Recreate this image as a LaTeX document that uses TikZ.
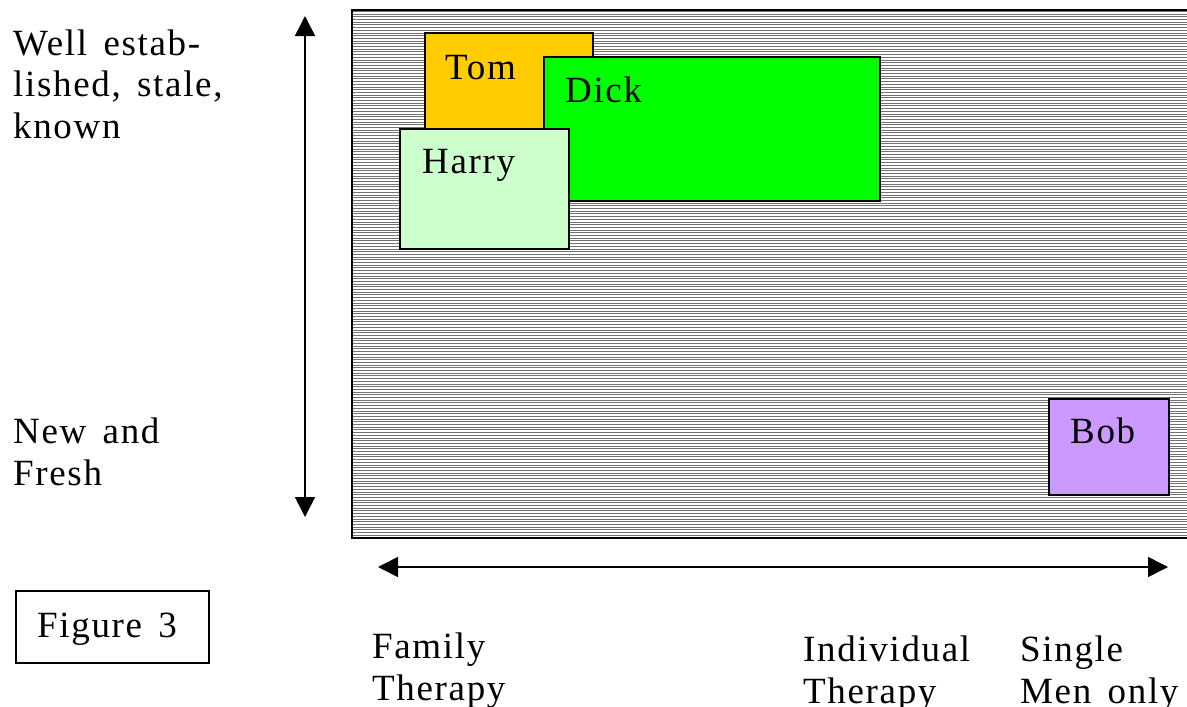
\documentclass[tikz,border=0pt]{standalone}
\usepackage{fontspec}
\setmainfont{Liberation Serif}[LetterSpace=4.5, WordSpace=1.5]
\usetikzlibrary{arrows.meta}

\definecolor{tomfill}{HTML}{FFCC00}
\definecolor{dickfill}{HTML}{00FF00}
\definecolor{harryfill}{HTML}{CCFFCC}
\definecolor{bobfill}{HTML}{CC99FF}

\tikzset{
  txt/.style={inner sep=0pt, anchor=base west, align=left,
    font=\fontsize{37}{41.5}\selectfont},
  patch/.style={draw=black, line width=1.4pt},
  axis/.style={line width=1.6pt, {Triangle[length=20pt,width=20pt]}-{Triangle[length=20pt,width=20pt]}},
}

\begin{document}
\begin{tikzpicture}[x=1pt, y=-1pt]
    \useasboundingbox (0,0) rectangle (1187,707);

    % Hatched field
    \coordinate (F1) at (352,10);
    \coordinate (F2) at (1187,538);
    \begin{scope}
      \clip (F1) rectangle (F2);
      \foreach \y in {11.4,14.1,...,538}
        \draw[black!55, line width=1pt] (352,\y) -- (1187,\y);
    \end{scope}
    \draw[line width=1.6pt] (F2 |- F1) -- (F1) -- (F1 |- F2) -- (F2);

    % Tom, Dick, Harry and Bob
    \filldraw[patch, fill=tomfill] (425,33) rectangle (593,135);
    \filldraw[patch, fill=dickfill] (544,57) rectangle (880,201);
    \filldraw[patch, fill=harryfill] (400,129) rectangle (569,249);
    \filldraw[patch, fill=bobfill] (1049,399) rectangle (1169,495);
    \node[txt] (tom) at (445,79) {Tom};
    \node[txt] (dick) at (565,102) {Dick};
    \node[txt] (harry) at (422,173) {Harry};
    \node[txt] (bob) at (1070,443) {Bob};

    % Axes
    \coordinate (up) at (305,16);
    \coordinate (down) at (305,517);
    \coordinate (left) at (378,567);
    \coordinate (right) at (1168,567);
    \draw[axis] (down) -- (up);
    \draw[axis] (left) -- (right);

    % Axis labels (placed by the baseline of the last line)
    \node[txt] (old) at (13,138) {Well estab-\\lished, stale,\\known};
    \node[txt] (new) at (13,485) {New and\\Fresh};
    \node[txt] (family) at (372,700) {Family\\Therapy};
    \node[txt] (individual) at (803,703) {Individual\\Therapy};
    \node[txt] (single) at (1020,703) {Single\\Men only};

    % Caption box
    \draw[line width=1.2pt] (16,591) rectangle (209,663);
    \node[txt] (caption) at (37,637) {Figure 3};
\end{tikzpicture}
\end{document}
